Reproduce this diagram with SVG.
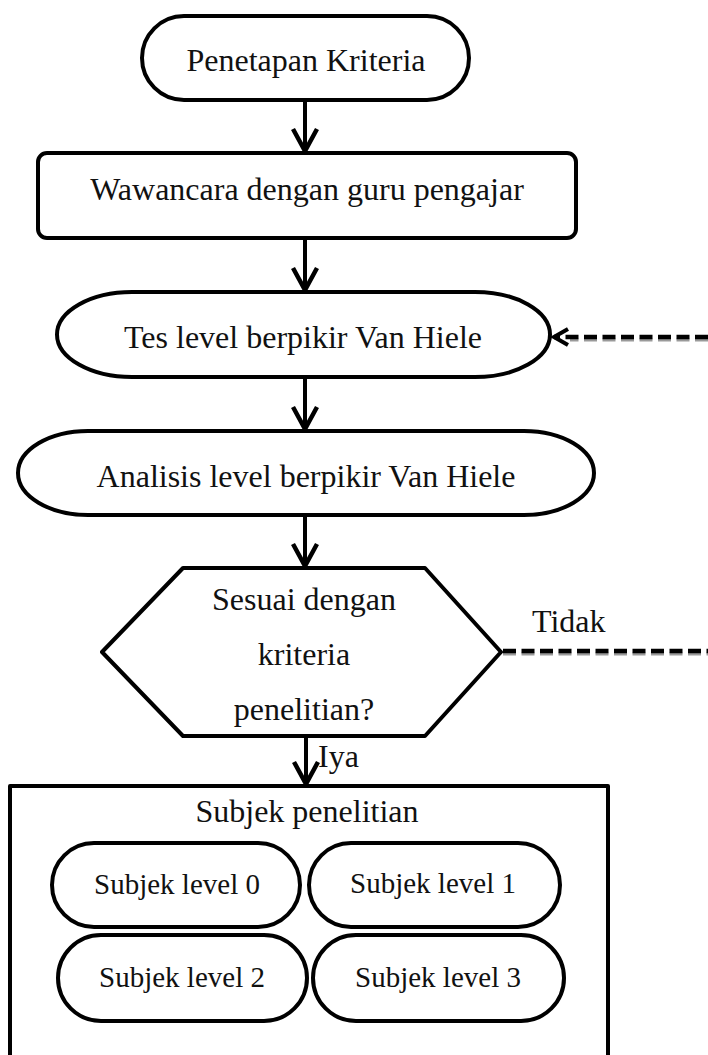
<svg xmlns="http://www.w3.org/2000/svg" width="708" height="1055" viewBox="0 0 708 1055">
  <style>
    .shape { fill: #fff; stroke: #000; stroke-width: 4; stroke-linejoin: round; }
    .label { font-family: "Liberation Serif", "Times New Roman", serif; font-size: 32px; fill: #111; }
    .mid { text-anchor: middle; }
    .small { font-size: 29px; }
    .flow { fill: none; stroke: #000; stroke-width: 4; }
    .dash { fill: none; stroke: #000; stroke-width: 4.5; stroke-dasharray: 13 5.5; }
    .dash-shadow { fill: none; stroke: #9a9a9a; stroke-width: 3; stroke-dasharray: 13 5.5; }
  </style>
  <defs>
    <marker id="vee" markerUnits="userSpaceOnUse" viewBox="0 0 32 30" markerWidth="32" markerHeight="30" refX="26" refY="15" orient="auto">
      <path d="M4 3 L26 15 L4 27" fill="none" stroke="#000" stroke-width="4.5"/>
    </marker>
    <marker id="vee-small" markerUnits="userSpaceOnUse" viewBox="0 0 24 22" markerWidth="24" markerHeight="22" refX="18" refY="11" orient="auto">
      <path d="M4 3 L18 11 L4 19" fill="none" stroke="#000" stroke-width="4"/>
    </marker>
  </defs>

  <rect width="708" height="1055" fill="#fff"/>

  <!-- connectors -->
  <g id="connectors">
    <line class="flow" x1="305" y1="100" x2="305" y2="151" marker-end="url(#vee)"/>
    <line class="flow" x1="305" y1="238" x2="305" y2="290" marker-end="url(#vee)"/>
    <line class="flow" x1="305" y1="377" x2="305" y2="429" marker-end="url(#vee)"/>
    <line class="flow" x1="305" y1="515" x2="305" y2="566" marker-end="url(#vee)"/>
    <line class="flow" x1="306" y1="736" x2="306" y2="784" marker-end="url(#vee)"/>
    <!-- "Tidak" loop back to the test step -->
    <line class="dash-shadow" x1="503" y1="654" x2="708" y2="654"/>
    <line class="dash" x1="503" y1="651" x2="708" y2="651"/>
    <line class="dash-shadow" x1="708" y1="340" x2="570" y2="340"/>
    <line class="dash" x1="708" y1="337" x2="554" y2="337" marker-end="url(#vee-small)"/>
    <text class="label" x="532" y="632">Tidak</text>
    <text class="label" x="318" y="767">Iya</text>
  </g>

  <g id="start">
    <rect class="shape" x="142" y="16" width="327" height="84" rx="42" ry="42"/>
    <text class="label mid" x="306" y="71">Penetapan Kriteria</text>
  </g>

  <g id="interview">
    <rect class="shape" x="38" y="153" width="538" height="85" rx="9" ry="9"/>
    <text class="label mid" x="307" y="200">Wawancara dengan guru pengajar</text>
  </g>

  <g id="test">
    <path class="shape" d="M132 292 L475 292 A75 42.5 0 0 1 475 377 L132 377 A75 42.5 0 0 1 132 292 Z"/>
    <text class="label mid" x="303" y="348">Tes level berpikir Van Hiele</text>
  </g>

  <g id="analysis">
    <path class="shape" d="M88 431 L524 431 A70 42 0 0 1 524 515 L88 515 A70 42 0 0 1 88 431 Z"/>
    <text class="label mid" x="306" y="487">Analisis level berpikir Van Hiele</text>
  </g>

  <g id="decision">
    <polygon class="shape" points="183,568 425,568 501,652 425,736 183,736 102,652" stroke-linejoin="miter"/>
    <text class="label mid" x="304" y="610">Sesuai dengan</text>
    <text class="label mid" x="304" y="665">kriteria</text>
    <text class="label mid" x="304" y="720">penelitian?</text>
  </g>

  <g id="subjects">
    <rect class="shape" x="10" y="786" width="598" height="290" stroke-width="4.5" stroke-linejoin="miter"/>
    <text class="label mid" x="307" y="822">Subjek penelitian</text>
  </g>

  <g id="level0">
    <rect class="shape" x="52" y="843" width="248" height="84" rx="42" ry="42"/>
    <text class="label small mid" x="177" y="894">Subjek level 0</text>
  </g>

  <g id="level1">
    <rect class="shape" x="309" y="843" width="251" height="84" rx="42" ry="42"/>
    <text class="label small mid" x="433" y="893">Subjek level 1</text>
  </g>

  <g id="level2">
    <rect class="shape" x="58" y="935" width="249" height="86" rx="43" ry="43"/>
    <text class="label small mid" x="182" y="987">Subjek level 2</text>
  </g>

  <g id="level3">
    <rect class="shape" x="313" y="935" width="251" height="86" rx="43" ry="43"/>
    <text class="label small mid" x="438" y="987">Subjek level 3</text>
  </g>
</svg>
